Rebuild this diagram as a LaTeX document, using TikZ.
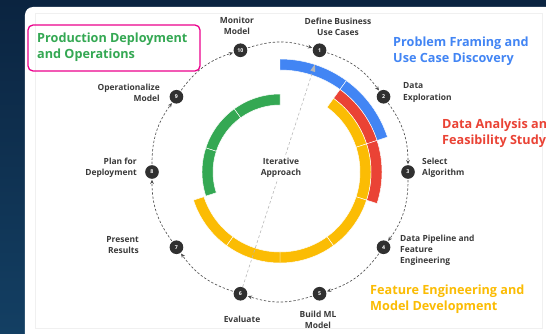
\documentclass[tikz,border=0pt]{standalone}
\usepackage{fontspec}
\setmainfont{Open Sans}
\usetikzlibrary{positioning,arrows,arrows.meta,calc}
\usepackage{xcolor}

\definecolor{gblue}{HTML}{4285F4}
\definecolor{gred}{HTML}{EA4335}
\definecolor{gyellow}{HTML}{FBBC04}
\definecolor{ggreen}{HTML}{34A853}
\definecolor{navytop}{HTML}{0B2440}
\definecolor{navybottom}{HTML}{133F63}
\definecolor{stepgray}{HTML}{303030}
\definecolor{textgray}{HTML}{3A3A3A}
\definecolor{flowgray}{HTML}{505050}
\definecolor{loopgray}{HTML}{B8B8B8}

\tikzset{
  ringnode/.style={circle,fill=stepgray,text=white,inner sep=0pt,minimum size=4.1mm,
    font=\fontsize{4.5}{4.5}\selectfont\bfseries},
  steplabel/.style={text=textgray,align=center,inner sep=0pt,
    font=\fontsize{7.2}{9.4}\selectfont\bfseries},
  phase/.style={align=left,anchor=west,inner sep=0pt,
    font=\fontsize{10.8}{13.7}\selectfont\bfseries},
  flow/.style={flowgray,line width=0.55pt,dash pattern=on 2pt off 1.6pt,shorten >=0.6pt,shorten <=0.8pt},
  loopline/.style={loopgray,line width=0.5pt,dash pattern=on 2.4pt off 2pt,
    -{Triangle[length=6pt,width=4.2pt]}},
  segment/.style={draw=white,line width=0.4pt}
}

\begin{document}
\begin{tikzpicture}[x=0.3mm,y=0.3mm]
  \useasboundingbox (-280,-161) rectangle (266,172);
  \clip (-280,-161) rectangle (266,172);

  % backdrop and card
  \shade[top color=navytop,bottom color=navybottom] (-280,-161) rectangle (266,172);
  \fill[white,rounded corners=2.4mm] (-255,165) rectangle (290,-175);
  \draw[black!6,line width=0.4pt] (-245,159) rectangle (262,-156);

  % phase rings
  \foreach \a in {90,54}
    \fill[gblue,segment] (\a:113) arc[start angle=\a,end angle=\a-36,radius=113]
      -- (\a-36:102) arc[start angle=\a-36,end angle=\a,radius=102] -- cycle;
  \foreach \a in {54,18}
    \fill[gred,segment] (\a:102) arc[start angle=\a,end angle=\a-36,radius=102]
      -- (\a-36:91) arc[start angle=\a-36,end angle=\a,radius=91] -- cycle;
  \foreach \a in {54,18,-18,-54,-90,-126}
    \fill[gyellow,segment] (\a:91) arc[start angle=\a,end angle=\a-36,radius=91]
      -- (\a-36:80) arc[start angle=\a-36,end angle=\a,radius=80] -- cycle;
  \foreach \a in {90,126,162}
    \fill[ggreen,segment] (\a:78) arc[start angle=\a,end angle=\a+36,radius=78]
      -- (\a+36:67) arc[start angle=\a+36,end angle=\a,radius=67] -- cycle;

  % steps
  \begin{scope}[>={Stealth[length=3.6pt,width=3.2pt]}]
    \node (n1) at (72:128) [ringnode]{1};
    \node (n2) at (36:128) [ringnode]{2};
    \node (n3) at (0:128) [ringnode]{3};
    \node (n4) at (-36:128) [ringnode]{4};
    \node (n5) at (-72:128) [ringnode]{5};
    \node (n6) at (-108:128) [ringnode]{6};
    \node (n7) at (-144:128) [ringnode]{7};
    \node (n8) at (180:128) [ringnode]{8};
    \node (n9) at (144:128) [ringnode]{9};
    \node (n10) at (108:128) [ringnode]{10};

    \draw[flow,->] (n10) to[bend left=18] (n1);
    \draw[flow,->] (n1) to[bend left=18] (n2);
    \draw[flow,->] (n2) to[bend left=18] (n3);
    \draw[flow,->] (n3) to[bend left=18] (n4);
    \draw[flow,->] (n4) to[bend left=18] (n5);
    \draw[flow,->] (n5) to[bend left=18] (n6);
    \draw[flow,->] (n6) to[bend left=18] (n7);
    \draw[flow,->] (n7) to[bend left=18] (n8);
    \draw[flow,->] (n8) to[bend left=18] (n9);
    \draw[flow,->] (n9) to[bend left=18] (n10);
  \end{scope}

  % loop back to the start
  \coordinate (restart) at (72:113);
  \draw[loopline] (n6) -- (restart);
  \node (core) at (1,4) [steplabel,fill=white,inner sep=1.5pt]{Iterative\\Approach};

  % step labels
  \node (l1) at (58,145) [steplabel]{Define Business\\Use Cases};
  \node (l2) at (123,79.5) [steplabel,anchor=west,align=left]{Data\\Exploration};
  \node (l3) at (142,4.5) [steplabel,anchor=west,align=left]{Select\\Algorithm};
  \node (l4) at (120,-78) [steplabel,anchor=west,align=left]{Data Pipeline and\\Feature\\Engineering};
  \node (l5) at (38,-147.5) [steplabel]{Build ML\\Model};
  \node (l6) at (-38,-147) [steplabel]{Evaluate};
  \node (l7) at (-141,-73.5) [steplabel,anchor=east,align=right]{Present\\Results};
  \node (l8) at (-143,4) [steplabel,anchor=east,align=right]{Plan for\\Deployment};
  \node (l9) at (-120,79.5) [steplabel,anchor=east,align=right]{Operationalize\\Model};
  \node (l10) at (-43,146) [steplabel]{Monitor\\Model};

  % phase titles
  \draw[magenta,line width=1.1pt,rounded corners=1.5mm] (-252,147) rectangle (-80,101);
  \node (deploy) at (-243,124.5) [phase,text=ggreen]{Production Deployment\\and Operations};
  \node (framing) at (113,121) [phase,text=gblue]{Problem Framing and\\Use Case Discovery};
  \node (analysis) at (162,39) [phase,text=gred]{Data Analysis and\\Feasibility Study};
  \node (modeling) at (90,-127) [phase,text=gyellow]{Feature Engineering and\\Model Development};
\end{tikzpicture}
\end{document}
